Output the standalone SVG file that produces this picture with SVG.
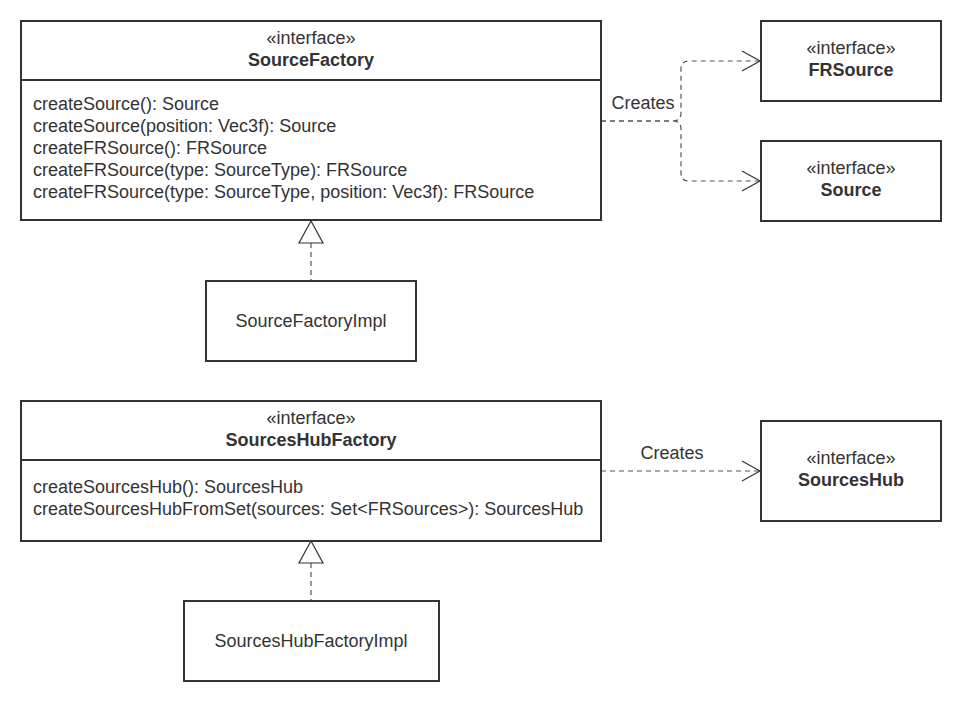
<svg xmlns="http://www.w3.org/2000/svg" width="962" height="702" viewBox="0 0 962 702">
<style>
.box{fill:#fff;stroke:#333;stroke-width:2}
.t{font-family:"Liberation Sans",Arial,sans-serif;font-size:18px;fill:#333}
.c{text-anchor:middle}
.b{font-weight:bold}
.dash{fill:none;stroke:#555;stroke-width:1.2;stroke-dasharray:5,4}
.arr{fill:none;stroke:#333;stroke-width:1.2}
.tri{fill:#fff;stroke:#333;stroke-width:1.2}
</style>
<rect width="962" height="702" fill="#fff"/>
<g id="connectors">
<path class="dash" d="M601,121 H673 Q681,121 681,113 V69 Q681,61 689,61 H759"/>
<path class="dash" d="M601,121 H673 Q681,121 681,129 V173 Q681,181 689,181 H759"/>
<path class="arr" d="M742,51 L760,61 L742,71"/>
<path class="arr" d="M742,171 L760,181 L742,191"/>
<text class="t c" x="643" y="109">Creates</text>
<path class="dash" d="M601,471 H759"/>
<path class="arr" d="M742,461 L760,471 L742,481"/>
<text class="t c" x="672" y="459">Creates</text>
<path class="dash" d="M311,243 V281"/>
<polygon class="tri" points="311,221 299,243 323,243"/>
<path class="dash" d="M311,563 V601"/>
<polygon class="tri" points="311,541 299,563 323,563"/>
</g>
<g id="SourceFactory">
<rect class="box" x="21" y="21" width="580" height="199"/>
<line x1="21" y1="80" x2="601" y2="80" stroke="#333" stroke-width="2"/>
<text class="t c" x="311" y="44">«interface»</text>
<text class="t c b" x="311" y="66">SourceFactory</text>
<text class="t" x="33" y="110">createSource(): Source</text>
<text class="t" x="33" y="132">createSource(position: Vec3f): Source</text>
<text class="t" x="33" y="154">createFRSource(): FRSource</text>
<text class="t" x="33" y="176">createFRSource(type: SourceType): FRSource</text>
<text class="t" x="33" y="198">createFRSource(type: SourceType, position: Vec3f): FRSource</text>
</g>
<g id="FRSource">
<rect class="box" x="761" y="21" width="180" height="80"/>
<text class="t c" x="851" y="54">«interface»</text>
<text class="t c b" x="851" y="76">FRSource</text>
</g>
<g id="Source">
<rect class="box" x="761" y="141" width="180" height="80"/>
<text class="t c" x="851" y="174">«interface»</text>
<text class="t c b" x="851" y="196">Source</text>
</g>
<g id="SourceFactoryImpl">
<rect class="box" x="206" y="281" width="210" height="80"/>
<text class="t c" x="311" y="327">SourceFactoryImpl</text>
</g>
<g id="SourcesHubFactory">
<rect class="box" x="21" y="401" width="580" height="140"/>
<line x1="21" y1="460" x2="601" y2="460" stroke="#333" stroke-width="2"/>
<text class="t c" x="311" y="424">«interface»</text>
<text class="t c b" x="311" y="446">SourcesHubFactory</text>
<text class="t" x="33" y="493">createSourcesHub(): SourcesHub</text>
<text class="t" x="33" y="515">createSourcesHubFromSet(sources: Set&lt;FRSources&gt;): SourcesHub</text>
</g>
<g id="SourcesHub">
<rect class="box" x="761" y="421" width="180" height="100"/>
<text class="t c" x="851" y="464">«interface»</text>
<text class="t c b" x="851" y="486">SourcesHub</text>
</g>
<g id="SourcesHubFactoryImpl">
<rect class="box" x="184" y="601" width="255" height="80"/>
<text class="t c" x="311" y="647">SourcesHubFactoryImpl</text>
</g>
</svg>
